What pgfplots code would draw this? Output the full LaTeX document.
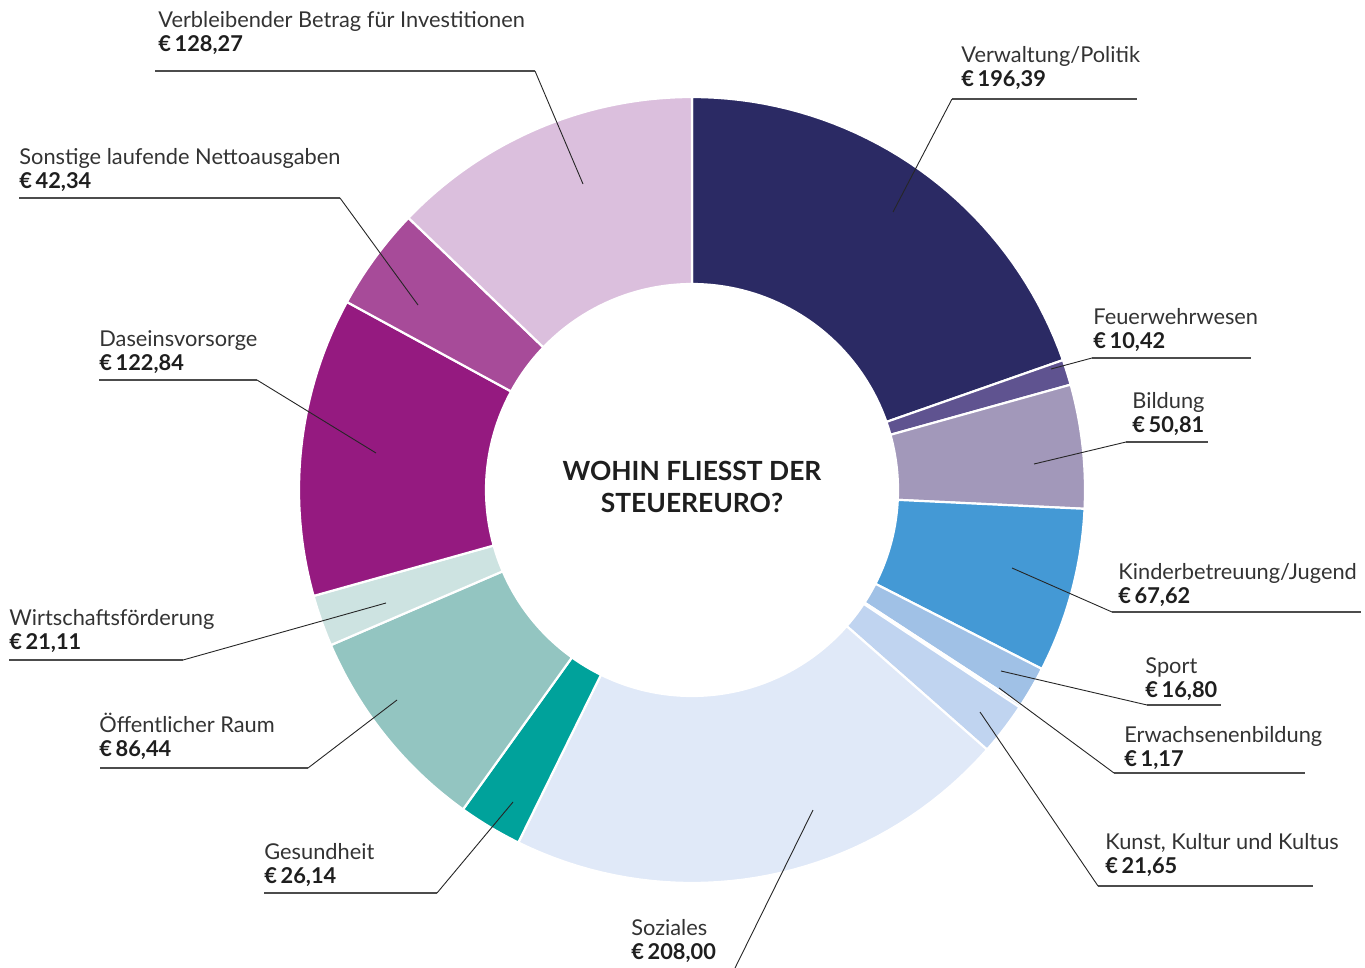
\documentclass[border=0pt]{standalone}
\usepackage{pgfplots}
\pgfplotsset{compat=1.18}
\usepackage{pgfplotstable}
\usepackage{fontspec}
\setmainfont{Lato}
\definecolor{cVer}{HTML}{2B2A64}
\definecolor{cFeu}{HTML}{5F5390}
\definecolor{cBil}{HTML}{A298BA}
\definecolor{cKin}{HTML}{4499D5}
\definecolor{cSpo}{HTML}{A0C1E6}
\definecolor{cErw}{HTML}{B4CEEE}
\definecolor{cKun}{HTML}{C0D4F0}
\definecolor{cSoz}{HTML}{E0E9F8}
\definecolor{cGes}{HTML}{00A29B}
\definecolor{cOef}{HTML}{93C5C1}
\definecolor{cWir}{HTML}{CDE3E1}
\definecolor{cDas}{HTML}{951A80}
\definecolor{cSon}{HTML}{A74B99}
\definecolor{cVbl}{HTML}{DBBFDD}
\definecolor{txt}{HTML}{333333}
\definecolor{txtb}{HTML}{1E1E1E}

\def\cum{0}
\newcommand\sector[2]{%
  \pgfmathsetmacro\A{90-0.36*\cum}%
  \pgfmathsetmacro\B{90-0.36*(\cum+#1)}%
  \edef\doplot{\noexpand\addplot[fill=#2, draw=white, line width=1.1pt, line join=round,
     samples at={0,1,...,40,60,61,...,100}]
     ({692+(x<50 ? 393 : 206)*cos(x<50 ? \A+(\B-\A)*x/40 : \B-(\B-\A)*(x-60)/40)},
      {490-(x<50 ? 393 : 206)*sin(x<50 ? \A+(\B-\A)*x/40 : \B-(\B-\A)*(x-60)/40)}) -- cycle;}%
  \doplot
  \pgfmathsetmacro\newcum{\cum+#1}\global\let\cum\newcum
}
\newcommand\lab[4]{% x, y baseline, name, value
  \node[anchor=base west, inner sep=0pt, font=\fontsize{10.9}{12}\selectfont, text=txt] at (axis cs:#1,#2) {#3};
  \node[anchor=base west, inner sep=0pt, font=\fontsize{10.9}{12}\selectfont\bfseries, text=txtb] at (axis cs:#1,#2+24) {€\,#4};
}

\begin{document}
\begin{tikzpicture}
\begin{axis}[
  scale only axis, width=682.5pt, height=484pt,
  xmin=0, xmax=1365, ymin=0, ymax=968, y dir=reverse,
  hide axis, clip=false]
\sector{196.39}{cVer}
\sector{10.42}{cFeu}
\sector{50.81}{cBil}
\sector{67.62}{cKin}
\sector{16.80}{cSpo}
\sector{1.17}{cErw}
\sector{21.65}{cKun}
\sector{208.00}{cSoz}
\sector{26.14}{cGes}
\sector{86.44}{cOef}
\sector{21.11}{cWir}
\sector{122.84}{cDas}
\sector{42.34}{cSon}
\sector{128.27}{cVbl}

% center title
\node[align=center, font=\fontsize{13.2}{16}\selectfont\bfseries, text=txtb] at (axis cs:692,487) {WOHIN FLIESST DER\\STEUEREURO?};

% labels
\lab{158}{28}{Verbleibender Betrag für Investitionen}{128,27}
\lab{961}{63}{Verwaltung/Politik}{196,39}
\lab{19}{165}{Sonstige laufende Nettoausgaben}{42,34}
\lab{1093}{324}{Feuerwehrwesen}{10,42}
\lab{99}{346}{Daseinsvorsorge}{122,84}
\lab{1132}{408}{Bildung}{50,81}
\lab{1118}{579}{Kinderbetreuung/Jugend}{67,62}
\lab{9}{625}{Wirtschaftsförderung}{21,11}
\lab{1145}{673}{Sport}{16,80}
\lab{99}{732}{Öffentlicher Raum}{86,44}
\lab{1124}{742}{Erwachsenenbildung}{1,17}
\lab{1105}{849}{Kunst, Kultur und Kultus}{21,65}
\lab{264}{859}{Gesundheit}{26,14}
\lab{631}{935}{Soziales}{208,00}

% horizontal rules
\begin{scope}[draw=black!70, line width=0.7pt]
\draw (axis cs:155,71) -- (axis cs:535,71);
\draw (axis cs:952,99) -- (axis cs:1137,99);
\draw (axis cs:19,198) -- (axis cs:340,198);
\draw (axis cs:1092,358) -- (axis cs:1251,358);
\draw (axis cs:99,380) -- (axis cs:257,380);
\draw (axis cs:1126,442) -- (axis cs:1208,442);
\draw (axis cs:1112,612) -- (axis cs:1361,612);
\draw (axis cs:9,660) -- (axis cs:183,660);
\draw (axis cs:1147,705) -- (axis cs:1221,705);
\draw (axis cs:100,768) -- (axis cs:308,768);
\draw (axis cs:1114,773) -- (axis cs:1305,773);
\draw (axis cs:1098,886) -- (axis cs:1313,886);
\draw (axis cs:264,893) -- (axis cs:437,893);
\end{scope}
% leader lines
\begin{scope}[draw=black!85, line width=0.45pt]
\draw (axis cs:535,71) -- (axis cs:583,184);
\draw (axis cs:952,99) -- (axis cs:893,212);
\draw (axis cs:340,198) -- (axis cs:418,305);
\draw (axis cs:1092,358) -- (axis cs:1051,369);
\draw (axis cs:257,380) -- (axis cs:376,453);
\draw (axis cs:1126,442) -- (axis cs:1034,464);
\draw (axis cs:1112,612) -- (axis cs:1012,568);
\draw (axis cs:183,660) -- (axis cs:386,603);
\draw (axis cs:1147,705) -- (axis cs:1001,671);
\draw (axis cs:308,768) -- (axis cs:397,700);
\draw (axis cs:1114,773) -- (axis cs:999,688);
\draw (axis cs:1098,886) -- (axis cs:980,712);
\draw (axis cs:437,893) -- (axis cs:513,802);
\draw (axis cs:735,968) -- (axis cs:813,810);
\end{scope}
\end{axis}
\pgfresetboundingbox
\path (0,0) rectangle (682.5pt,484pt);
\end{tikzpicture}
\end{document}
